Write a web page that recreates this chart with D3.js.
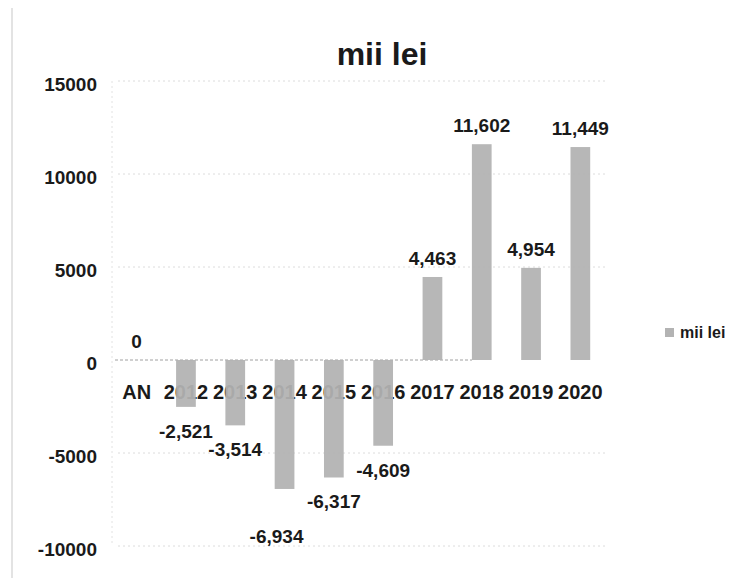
<!DOCTYPE html>
<html>
<head>
<meta charset="utf-8">
<script src="https://cdnjs.cloudflare.com/ajax/libs/d3/7.8.5/d3.min.js"></script>
<style>
  body { margin: 0; background: #fff; }
  svg { display: block; }
  text { font-family: "Liberation Sans", Arial, sans-serif; font-weight: bold; fill: #1a1a1a; }
</style>
</head>
<body>
<svg></svg>
<script>
var width = 743,
    height = 581;

// data
var categories = ["AN", "2012", "2013", "2014", "2015", "2016", "2017", "2018", "2019", "2020"];
var values = [0, -2521, -3514, -6934, -6317, -4609, 4463, 11602, 4954, 11449];
var yTicks = [15000, 10000, 5000, 0, -5000, -10000];
var seriesName = "mii lei";

// the 2014 label was dragged away from its bar in the original
var labelNudge = { "2014": [-8, 23] };

var svg = d3.select("svg")
    .attr("width", width)
    .attr("height", height);

var x = d3.scaleBand()
    .domain(categories)
    .range([112, 605])
    .paddingInner(0.6)
    .paddingOuter(0.3);

var y = d3.scaleLinear()
    .domain([-10000, 15000])
    .range([546, 81]);

// excel style number format, with a plain hyphen for minus
var fmt = d3.formatLocale({ decimal: ".", thousands: ",", grouping: [3], currency: ["", ""], minus: "-" }).format(",");
var fmtTick = d3.formatLocale({ decimal: ".", thousands: "", grouping: [3], currency: ["", ""], minus: "-" }).format("d");

// faint chart border on the left
svg.append("line")
    .attr("x1", 12).attr("x2", 12)
    .attr("y1", 8).attr("y2", 578)
    .attr("stroke", "#dadada")
    .attr("stroke-width", 1.5);

// grid, dotted and faded like the scan
svg.append("g")
    .selectAll("line")
    .data(yTicks.filter(d => d !== 0))
    .enter().append("line")
    .attr("x1", 118)
    .attr("x2", 605)
    .attr("y1", d => y(d))
    .attr("y2", d => y(d))
    .attr("stroke", "#dcdcdc")
    .attr("stroke-dasharray", "2,3")
    .attr("stroke-width", 1);

svg.append("line")
    .attr("x1", x.range()[0]).attr("x2", x.range()[0])
    .attr("y1", y(15000)).attr("y2", y(-10000))
    .attr("stroke", "#e2e2e2")
    .attr("stroke-dasharray", "2,3");

// y axis: labels only
var yAxis = d3.axisLeft(y)
    .tickValues(yTicks)
    .tickSize(0)
    .tickPadding(0)
    .tickFormat(fmtTick);

svg.append("g")
    .attr("transform", "translate(97,3)")
    .call(yAxis)
    .call(g => g.select(".domain").remove())
    .call(g => g.attr("font-family", null).attr("font-size", null))
    .selectAll("text")
    .attr("font-size", 19)
    .attr("fill", "#1a1a1a");

// category labels sit under the zero line, behind the bars
var xAxis = d3.axisBottom(x).tickSize(0).tickPadding(0);
svg.append("g")
    .attr("transform", "translate(0," + (y(0) + 25) + ")")
    .call(xAxis)
    .call(g => g.select(".domain").remove())
    .call(g => g.attr("font-family", null).attr("font-size", null))
    .selectAll("text")
    .attr("font-size", 20)
    .attr("fill", "#1a1a1a");

// zero line
svg.append("line")
    .attr("x1", 115).attr("x2", 472)
    .attr("y1", y(0)).attr("y2", y(0))
    .attr("stroke", "#a0a0a0")
    .attr("stroke-width", 1)
    .attr("stroke-dasharray", "3,2");

svg.append("g")
    .selectAll("rect")
    .data(values)
    .enter().append("rect")
    .attr("x", (d, i) => x(categories[i]))
    .attr("width", x.bandwidth())
    .attr("y", d => y(Math.max(0, d)))
    .attr("height", d => Math.abs(y(d) - y(0)))
    .attr("fill", "#b3b3b3")
    .attr("fill-opacity", 0.94);

svg.append("g")
    .selectAll("text")
    .data(values)
    .enter().append("text")
    .attr("text-anchor", "middle")
    .attr("font-size", 19)
    .attr("x", (d, i) => x(categories[i]) + x.bandwidth() / 2 + (labelNudge[categories[i]] || [0, 0])[0])
    .attr("y", (d, i) => (d < 0 ? y(d) + 31 : y(d) - 12) + (labelNudge[categories[i]] || [0, 0])[1])
    .text(d => fmt(d));

// title
svg.append("text")
    .attr("x", 382)
    .attr("y", 65)
    .attr("text-anchor", "middle")
    .attr("font-size", 32)
    .text(seriesName);

// legend
var legend = svg.append("g").attr("transform", "translate(665,328)");
legend.append("rect")
    .attr("width", 9).attr("height", 9)
    .attr("fill", "#b3b3b3");
legend.append("text")
    .attr("x", 15)
    .attr("y", 9.5)
    .attr("font-size", 16)
    .text(seriesName);
</script>
</body>
</html>
